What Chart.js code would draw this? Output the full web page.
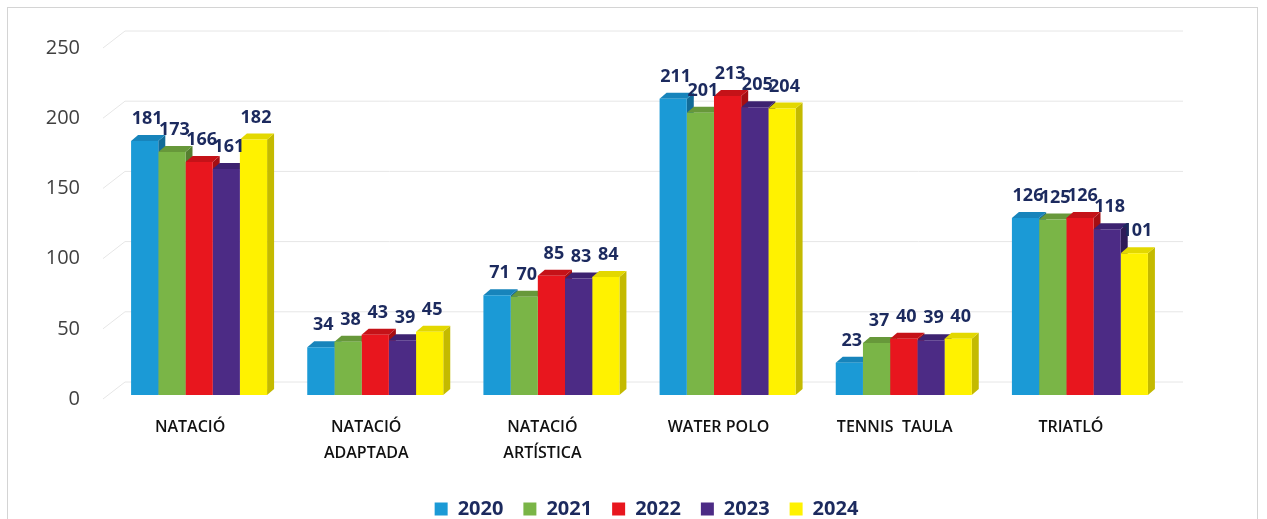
<!DOCTYPE html>
<html>
<head>
<meta charset="utf-8">
<script src="https://cdn.jsdelivr.net/npm/chart.js@4"></script>
<style>
    html, body { margin: 0; padding: 0; background: #fff; overflow: hidden; }
    #frame { position: absolute; left: 7px; top: 7px; width: 1249px; height: 600px; border: 1px solid #d4d4d4; }
    #wrap { position: absolute; left: 0; top: 0; width: 1267px; height: 537px; }
</style>
</head>
<body>
<div id="frame"></div>
<div id="wrap"><canvas id="chart"></canvas></div>
<script>
const categories = [['NATACIÓ'], ['NATACIÓ', 'ADAPTADA'], ['NATACIÓ', 'ARTÍSTICA'], ['WATER POLO'], ['TENNIS  TAULA'], ['TRIATLÓ']];
const years = ['2020', '2021', '2022', '2023', '2024'];
const values2020 = [181, 34, 71, 211, 23, 126];
const values2021 = [173, 38, 70, 201, 37, 125];
const values2022 = [166, 43, 85, 213, 40, 126];
const values2023 = [161, 39, 83, 205, 39, 118];
const values2024 = [182, 45, 84, 204, 40, 101];
const yTicks = [0, 50, 100, 150, 200, 250];

const frontColors = ['#1b9ad6', '#7ab547', '#e8161e', '#4c2b85', '#fff200'];
const topColors = ['#1784bb', '#67983a', '#c51218', '#3d2270', '#e3d800'];
const sideColors = ['#126b98', '#557f2f', '#a50e13', '#2f1a58', '#c4ba00'];

const DX = 7, DY = 6;
const navy = '#1c2a5e';

function fillPoly(ctx, pts, color) {
    ctx.beginPath();
    ctx.moveTo(pts[0][0], pts[0][1]);
    for (let i = 1; i < pts.length; i++) ctx.lineTo(pts[i][0], pts[i][1]);
    ctx.closePath();
    ctx.fillStyle = color;
    ctx.fill();
}

const bars3d = {
    id: 'bars3d',
    beforeDatasetsDraw(chart) {
        const ctx = chart.ctx;
        const area = chart.chartArea;
        const yScale = chart.scales.y;

        // back wall gridlines
        ctx.save();
        ctx.strokeStyle = '#e6e6e6';
        ctx.lineWidth = 1;
        yTicks.forEach(v => {
            const y = yScale.getPixelForValue(v);
            ctx.beginPath();
            ctx.moveTo(area.left - 8, y + 4);
            ctx.lineTo(area.left + 14, y - 13);
            ctx.lineTo(area.right + 15, y - 13);
            ctx.stroke();
        });

        // side and top faces
        chart.data.datasets.forEach((ds, i) => {
            const meta = chart.getDatasetMeta(i);
            meta.data.forEach(bar => {
                const w = bar.width;
                const l = bar.x - w / 2;
                const r = bar.x + w / 2;
                const t = bar.y;
                const b = bar.base;
                fillPoly(ctx, [[r, t], [r + DX, t - DY], [r + DX, b - DY], [r, b]], sideColors[i]);
                fillPoly(ctx, [[l, t], [l + DX, t - DY], [r + DX, t - DY], [r, t]], topColors[i]);
            });
        });
        ctx.restore();
    },
    afterDatasetsDraw(chart) {
        const ctx = chart.ctx;
        ctx.save();
        ctx.font = 'bold 18px "Open Sans"';
        ctx.fillStyle = navy;
        ctx.textAlign = 'center';
        ctx.textBaseline = 'middle';
        chart.data.datasets.forEach((ds, i) => {
            const meta = chart.getDatasetMeta(i);
            meta.data.forEach((bar, j) => {
                ctx.fillText(ds.data[j], bar.x + DX / 2 - 1, bar.y - 22);
            });
        });
        ctx.restore();
    }
};

const allValues = [values2020, values2021, values2022, values2023, values2024];

new Chart(document.getElementById('chart'), {
    type: 'bar',
    data: {
        labels: categories,
        datasets: years.map((year, i) => ({
            label: year,
            data: allValues[i],
            backgroundColor: frontColors[i],
            borderWidth: 0,
            categoryPercentage: 0.772,
            barPercentage: 1.0
        }))
    },
    options: {
        responsive: true,
        maintainAspectRatio: false,
        animation: false,
        layout: {
            padding: { left: 26, right: 0, top: 44, bottom: 8 }
        },
        plugins: {
            legend: {
                position: 'bottom',
                labels: {
                    boxWidth: 13,
                    boxHeight: 13,
                    padding: 20,
                    color: navy,
                    font: { family: 'Open Sans', size: 20, weight: 'bold' }
                }
            },
            tooltip: { enabled: false }
        },
        scales: {
            x: {
                grid: { display: false },
                border: { display: false },
                ticks: {
                    color: '#111',
                    padding: 12,
                    labelOffset: -9,
                    maxRotation: 0,
                    autoSkip: false,
                    font: { family: 'Open Sans', size: 16, weight: 600, lineHeight: 1.6 }
                },
                afterFit(scale) { scale.height = 84; }
            },
            y: {
                min: 0,
                max: 250,
                grid: { display: false },
                border: { display: false },
                ticks: {
                    stepSize: 50,
                    padding: 23,
                    labelOffset: 4,
                    color: '#404040',
                    font: { family: 'Open Sans', size: 20 }
                },
                afterFit(scale) { scale.width = 85; }
            },
            // empty right axis that only reserves room on the right
            yRight: {
                position: 'right',
                min: 0,
                max: 250,
                grid: { display: false },
                border: { display: false },
                ticks: { display: false },
                afterFit(scale) { scale.width = 99; }
            }
        }
    },
    plugins: [bars3d]
});
</script>
</body>
</html>
